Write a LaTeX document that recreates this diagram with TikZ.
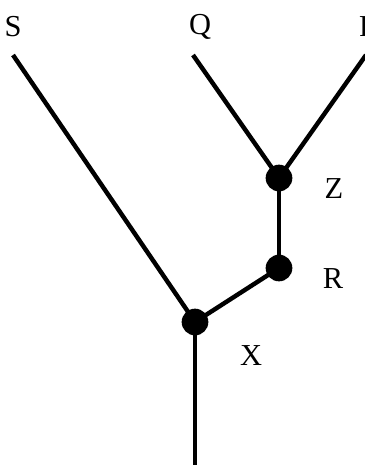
\documentclass[tikz,border=0pt]{standalone}
\usepackage{fontspec}
\setmainfont{Liberation Serif}
\usepackage{tikz}

\begin{document}
\begin{tikzpicture}[x=0.03cm,y=-0.03cm,
    dot/.style={circle,fill=black,inner sep=0pt,minimum size=0.8cm},
    branch/.style={line width=3.8pt},
    lbl/.style={font=\fontsize{26}{30}\selectfont,inner sep=0pt}]
  \useasboundingbox (0,0) rectangle (365,465);
  \coordinate (s) at (13,55);
  \coordinate (q) at (193,55);
  \coordinate (p) at (366,55);
  \coordinate (root) at (195,465);
  \node[dot] (Z) at (279,178) {};
  \node[dot] (R) at (279,268) {};
  \node[dot] (X) at (195,322) {};
  \draw[branch] (s) -- (X.center);
  \draw[branch] (q) -- (Z.center);
  \draw[branch] (p) -- (Z.center);
  \draw[branch] (Z.center) -- (R.center);
  \draw[branch] (R.center) -- (X.center);
  \draw[branch] (X.center) -- (root);
  \node[lbl] (S) at (13,27) {S};
  \node[lbl] (Q) at (200,27) {Q};
  \node[lbl,anchor=west] (P) at (359,27) {P};
  \node[lbl] (Zl) at (334,189) {Z};
  \node[lbl] (Rl) at (333,279) {R};
  \node[lbl] (Xl) at (251,356) {X};
\end{tikzpicture}
\end{document}
